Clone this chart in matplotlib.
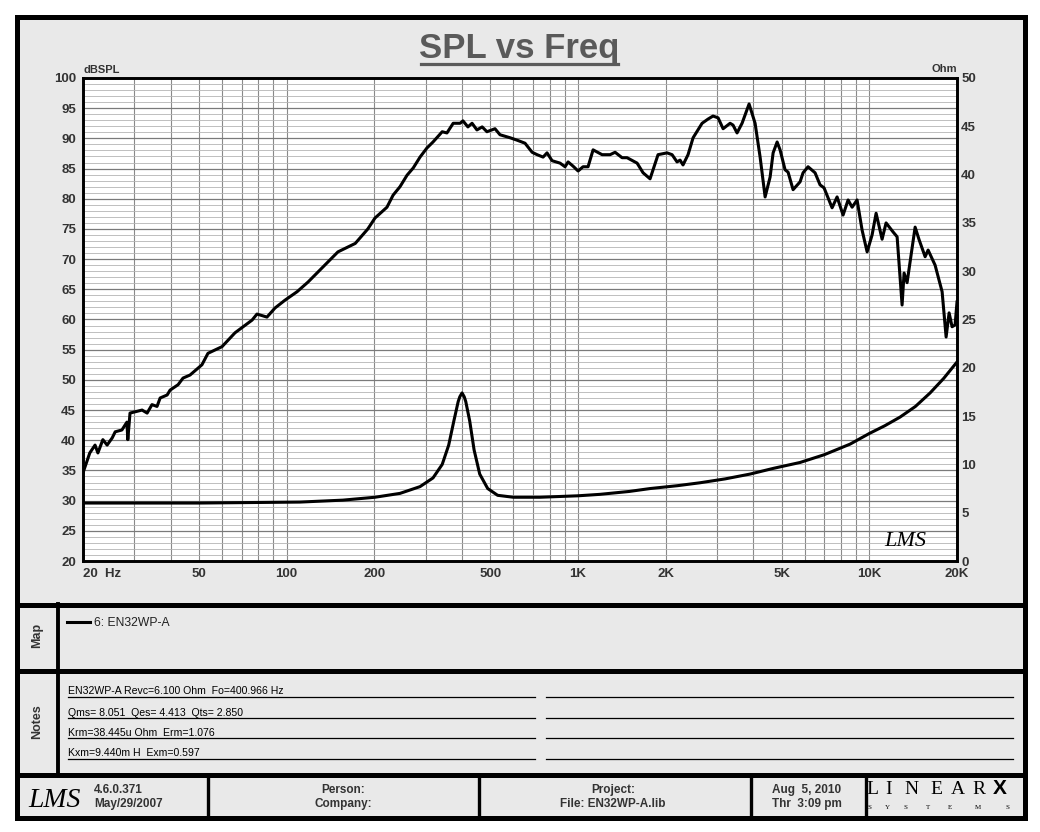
import matplotlib
matplotlib.use("Agg")
import matplotlib.pyplot as plt
import matplotlib.ticker as mticker
from matplotlib.patches import Rectangle

plt.rcParams['font.family'] = ['Liberation Sans', 'DejaVu Sans']

# SPL response (Hz, dB)
spl_freq = [20, 21.1, 22.0, 22.5, 23.4, 24.2, 25.2, 25.8, 27.2, 28.3,
            28.5, 29.0, 31.9, 33.2, 34.5, 35.9, 36.8, 38.9, 39.8, 42.4,
            44.1, 46.6, 51.2, 53.7, 60.0, 66.5, 76.1, 79.1, 85.6, 91.2,
            98.7, 108.6, 118.4, 150, 172, 190, 201, 221, 232, 245,
            259, 272, 287, 303, 318, 342, 355, 373, 394, 403,
            419, 433, 450, 469, 487, 519, 540, 585, 618, 658,
            696, 724, 759, 783, 815, 868, 903, 925, 962, 1001,
            1041, 1083, 1127, 1210, 1289, 1341, 1417, 1474, 1596, 1673,
            1768, 1883, 2022, 2104, 2188, 2241, 2294, 2387, 2484, 2667,
            2796, 2908, 3027, 3149, 3328, 3406, 3516, 3658, 3867, 4055,
            4219, 4389, 4566, 4676, 4826, 4940, 5139, 5263, 5475, 5786,
            5924, 6163, 6514, 6776, 6994, 7452, 7752, 8128, 8457, 8730,
            9080, 9447, 9829, 10223, 10552, 11064, 11418, 12068, 12458, 12958,
            13164, 13480, 14364, 14826, 15546, 15918, 16822, 17780, 18350, 18790,
            19238, 19702, 20000]
spl_db = [34.6, 37.9, 39.2, 37.9, 40.1, 39.2, 40.4, 41.4, 41.7, 43.0,
          40.1, 44.5, 45.0, 44.5, 45.9, 45.6, 47.0, 47.5, 48.3, 49.2,
          50.3, 50.8, 52.5, 54.4, 55.5, 57.8, 59.9, 60.9, 60.4, 61.9,
          63.2, 64.6, 66.2, 71.2, 72.6, 75.0, 76.8, 78.6, 80.6, 82.0,
          83.9, 85.1, 86.9, 88.4, 89.4, 91.1, 90.9, 92.5, 92.5, 92.9,
          91.9, 92.5, 91.4, 91.9, 91.1, 91.6, 90.6, 90.1, 89.7, 89.2,
          87.7, 87.3, 86.9, 87.6, 86.3, 85.9, 85.3, 86.1, 85.4, 84.6,
          85.3, 85.3, 88.1, 87.3, 87.3, 87.7, 86.8, 86.8, 85.9, 84.3,
          83.3, 87.3, 87.6, 87.3, 86.1, 86.4, 85.6, 87.3, 90.1, 92.5,
          93.2, 93.7, 93.4, 91.6, 92.5, 92.2, 90.9, 92.5, 95.7, 92.5,
          86.9, 80.3, 83.6, 87.6, 89.4, 88.1, 84.8, 84.4, 81.5, 82.8,
          84.3, 85.3, 84.3, 82.3, 81.8, 78.5, 80.3, 77.3, 79.8, 78.6,
          79.8, 74.8, 71.2, 74.0, 77.6, 73.3, 76.0, 74.5, 73.7, 62.4,
          67.7, 66.1, 75.3, 73.2, 70.4, 71.5, 69.0, 64.6, 57.1, 61.1,
          58.8, 59.1, 62.9]

# impedance curve (Hz, Ohm)
imp_freq = [20, 50, 111, 156, 201, 245, 287, 318, 342, 360,
            375, 388, 393, 400, 407, 412, 425, 440, 460, 490,
            530, 600, 741, 1000, 1190, 1500, 1768, 2200, 2626, 3200,
            3898, 4700, 5786, 7000, 8592, 10000, 11300, 12757, 14400, 16172,
            18000, 20000]
imp_ohm = [6.0, 6.0, 6.1, 6.3, 6.6, 7.0, 7.7, 8.6, 10.0, 12.0,
           14.5, 16.5, 17.0, 17.4, 17.0, 16.5, 14.5, 11.5, 9.0, 7.5,
           6.8, 6.6, 6.6, 6.75, 6.9, 7.2, 7.5, 7.8, 8.1, 8.5,
           9.0, 9.6, 10.2, 11.0, 12.1, 13.2, 14.0, 14.9, 16.0, 17.4,
           18.9, 20.6]

x_ticks = [20, 50, 100, 200, 500, 1000, 2000, 5000, 10000, 20000]
x_labels = ['20  Hz', '50', '100', '200', '500', '1K', '2K', '5K', '10K', '20K']

notes = ['EN32WP-A Revc=6.100 Ohm  Fo=400.966 Hz',
         'Qms= 8.051  Qes= 4.413  Qts= 2.850',
         'Krm=38.445u Ohm  Erm=1.076',
         'Kxm=9.440m H  Exm=0.597']

LBL = '#333333'

fig = plt.figure(figsize=(10.4, 8.32), dpi=100)
fig.patch.set_facecolor('white')

# page decoration in pixel coordinates
bg = fig.add_axes([0, 0, 1, 1])
bg.set_xlim(0, 1040)
bg.set_ylim(832, 0)
bg.axis('off')
bg.add_patch(Rectangle((16.5, 16.5), 1008, 801, facecolor='#e9e9e9',
                       edgecolor='black', lw=3.6))
for yy in [604.5, 671, 775]:
    bg.plot([16.5, 1024.5], [yy, yy], color='black', lw=3.6)
bg.plot([57.5, 57.5], [604, 775], color='black', lw=2.8)
for xx in [207.5, 478.5, 751, 865.5]:
    bg.plot([xx, xx], [775, 817], color='black', lw=2.4)

bg.text(519, 58, 'SPL vs Freq', ha='center', va='baseline', fontsize=25,
        weight='bold', color='#5a5a5a')
bg.plot([421, 618], [64, 64], color='#5a5a5a', lw=2.3)
bg.text(83, 73, 'dBSPL', ha='left', va='baseline', fontsize=8,
        weight='bold', color=LBL)
bg.text(957, 72, 'Ohm', ha='right', va='baseline', fontsize=8,
        weight='bold', color=LBL)

# map / notes panels
bg.text(37, 635, 'Map', rotation=90, ha='center', va='center', fontsize=9,
        weight='bold', color=LBL)
bg.text(37, 722, 'Notes', rotation=90, ha='center', va='center', fontsize=9,
        weight='bold', color=LBL)
bg.plot([67, 90], [622, 622], color='black', lw=2.2)
bg.text(94, 626.5, '6: EN32WP-A', ha='left', va='baseline', fontsize=8.7,
        color='#222222')
for i, yy in enumerate([697, 718, 738, 759]):
    bg.plot([68, 535], [yy, yy], color='black', lw=0.9)
    bg.plot([546, 1013], [yy, yy], color='black', lw=0.9)
    bg.text(68, yy - 2.5, notes[i], ha='left', va='baseline', fontsize=7.6,
            color='black')

# footer
bg.text(28, 807, 'LMS', ha='left', va='baseline', fontsize=20,
        family='Liberation Serif', style='italic', color='black')
bg.text(94, 793, '4.6.0.371', ha='left', va='baseline', fontsize=8.5,
        weight='bold', color=LBL)
bg.text(94, 807, 'May/29/2007', ha='left', va='baseline', fontsize=8.5,
        weight='bold', color=LBL)
bg.text(343, 793, 'Person:', ha='center', va='baseline', fontsize=8.5,
        weight='bold', color=LBL)
bg.text(343, 807, 'Company:', ha='center', va='baseline', fontsize=8.5,
        weight='bold', color=LBL)
bg.text(613, 793, 'Project:', ha='center', va='baseline', fontsize=8.5,
        weight='bold', color=LBL)
bg.text(613, 807, 'File: EN32WP-A.lib', ha='center', va='baseline', fontsize=8.5,
        weight='bold', color=LBL)
bg.text(807, 793, 'Aug  5, 2010', ha='center', va='baseline', fontsize=8.5,
        weight='bold', color=LBL)
bg.text(807, 807, 'Thr  3:09 pm', ha='center', va='baseline', fontsize=8.5,
        weight='bold', color=LBL)
for ch, xx in zip('LINEAR', [872, 889, 911, 936, 958, 979]):
    bg.text(xx, 794, ch, ha='center', va='baseline', fontsize=14,
            family='Liberation Serif', color='black')
bg.text(1000, 794, 'X', ha='center', va='baseline', fontsize=15,
        weight='bold', color='black')
for ch, xx in zip('SYSTEMS', [869, 887, 905, 928, 950, 978, 1007]):
    bg.text(xx, 809, ch, ha='center', va='baseline', fontsize=5,
            family='Liberation Serif', color='black')

# main plot
ax = fig.add_axes([83 / 1040, (832 - 561) / 832, 874 / 1040, 483 / 832])
ax.set_facecolor('white')
ax.plot(spl_freq, spl_db, color='black', lw=2.2, zorder=3)
ax.set_xscale('log')
ax.set_xlim(20, 20000)
ax.set_ylim(20, 100)
ax.set_xticks(x_ticks)
ax.set_xticklabels(x_labels)
minor = [m * 10 ** d for d in (1, 2, 3) for m in range(2, 10)]
minor = [v for v in minor if v not in x_ticks and 20 < v < 20000]
ax.xaxis.set_minor_locator(mticker.FixedLocator(minor))
ax.xaxis.set_minor_formatter(mticker.NullFormatter())
ax.yaxis.set_major_locator(mticker.MultipleLocator(5))
ax.yaxis.set_minor_locator(mticker.MultipleLocator(1))
ax.grid(True, which='both', axis='x', color='#8a8a8a', lw=0.8)
ax.grid(True, which='major', axis='y', color='#7a7a7a', lw=0.9)
ax.grid(True, which='minor', axis='y', color='#b4b4b4', lw=0.6)
ax.set_axisbelow(True)
ax.tick_params(which='both', length=0)
ax.tick_params(axis='x', pad=5)
ax.tick_params(axis='y', pad=5)
for lab in ax.get_xticklabels() + ax.get_yticklabels():
    lab.set_fontsize(9.5)
    lab.set_fontweight('bold')
    lab.set_color(LBL)
ax.get_xticklabels()[0].set_horizontalalignment('left')
for s in ax.spines.values():
    s.set_linewidth(1.9)
    s.set_color('black')

ax.text(0.965, 0.02, 'LMS', transform=ax.transAxes, ha='right', va='bottom',
        fontsize=16, family='Liberation Serif', style='italic', color='black')

ax2 = ax.twinx()
ax2.plot(imp_freq, imp_ohm, color='black', lw=2.2)
ax2.set_ylim(0, 50)
ax2.yaxis.set_major_locator(mticker.MultipleLocator(5))
ax2.tick_params(length=0, pad=3)
for lab in ax2.get_yticklabels():
    lab.set_fontsize(9.5)
    lab.set_fontweight('bold')
    lab.set_color(LBL)
for s in ax2.spines.values():
    s.set_linewidth(1.9)

fig.savefig('out.png', dpi=100)
